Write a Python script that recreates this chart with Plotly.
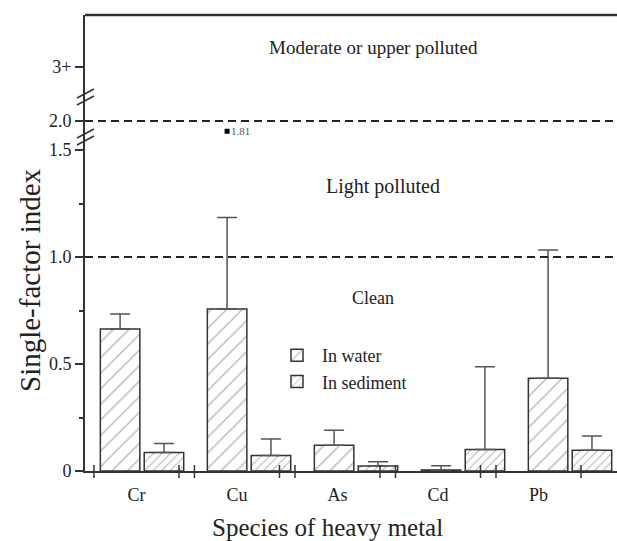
import plotly.graph_objects as go

categories = ["Cr", "Cu", "As", "Cd", "Pb"]
water = [0.664, 0.757, 0.120, 0.005, 0.433]
water_top = [0.734, 1.184, 0.190, 0.025, 1.033]
sediment = [0.086, 0.072, 0.023, 0.101, 0.097]
sediment_top = [0.129, 0.150, 0.043, 0.487, 0.164]
cu_max = 1.81
y_low_ticks = [0, 0.5, 1.0, 1.5]
y_low_labels = ["0", "0.5", "1.0", "1.5"]
y_up_ticks = [2, 3]
y_up_labels = ["2.0", "3+"]
threshold_clean = 1.0
threshold_light = 2.0

W, H = 617, 541
L, R, T, B = 85, 0, 15, 70
PW, PH = W - L - R, H - T - B
FONT = "Liberation Serif"
INK = "#222222"

def px(x):
    return (x - L) / PW

def py(y):
    return (H - B - y) / PH

bargap = 0.18
bargroupgap = 0.1
idx = list(range(len(categories)))
water_err = [t - v for t, v in zip(water_top, water)]
sed_err = [t - v for t, v in zip(sediment_top, sediment)]

fig = go.Figure()
fig.add_trace(go.Bar(
    x=idx, y=water, name="In water",
    marker=dict(color="white", line=dict(color="#333333", width=1.5),
                pattern=dict(shape="/", size=11, solidity=0.12, fgcolor="#666666", bgcolor="white")),
    error_y=dict(type="data", array=water_err, arrayminus=[0] * len(water), symmetric=False,
                 color="#555555", thickness=1.5, width=10),
    xaxis="x", yaxis="y",
))
fig.add_trace(go.Bar(
    x=idx, y=sediment, name="In sediment",
    marker=dict(color="white", line=dict(color="#333333", width=1.5),
                pattern=dict(shape="/", size=6, solidity=0.18, fgcolor="#666666", bgcolor="white")),
    error_y=dict(type="data", array=sed_err, arrayminus=[0] * len(sediment), symmetric=False,
                 color="#555555", thickness=1.5, width=10),
    xaxis="x", yaxis="y",
))

water_offset = -(1 - bargap) / 4
fig.add_trace(go.Scatter(
    x=[idx[1] + water_offset], y=[cu_max], mode="markers",
    marker=dict(symbol="square", size=5, color="black"),
    showlegend=False, xaxis="x", yaxis="y2", hoverinfo="skip",
))

split = py(140)
low_top = (471 - 140) / 214.0

axis_common = dict(showgrid=False, zeroline=False, showline=True, linewidth=2, linecolor="#333333",
                   ticks="outside", ticklen=8, tickwidth=1.5, tickcolor="#333333",
                   tickfont=dict(family=FONT, size=18, color=INK))

shapes = []
shapes.append(dict(type="line", xref="paper", yref="paper", x0=0, x1=1, y0=1, y1=1,
                   line=dict(color="#333333", width=2.5)))
shapes.append(dict(type="line", xref="paper", yref="y", x0=0, x1=1, y0=threshold_clean, y1=threshold_clean,
                   line=dict(color=INK, width=2, dash="8px,5px")))
shapes.append(dict(type="line", xref="paper", yref="y2", x0=0, x1=1, y0=threshold_light, y1=threshold_light,
                   line=dict(color=INK, width=2, dash="8px,5px")))
half = 0.423
for i in idx:
    for s in (-half, half):
        shapes.append(dict(type="line", xref="x2", yref="paper", x0=i + s, x1=i + s,
                           y0=py(478), y1=py(465), line=dict(color="#333333", width=1.5)))
for c in (93, 100, 133, 140):
    shapes.append(dict(type="line", xref="paper", yref="paper",
                       x0=px(77), x1=px(94), y0=py(c + 5), y1=py(c - 4),
                       line=dict(color="#333333", width=1.5)))

def txt(text, x, y, size, **kw):
    d = dict(text=text, x=px(x), y=py(y), xref="paper", yref="paper", xanchor="center",
             yanchor="middle", showarrow=False, font=dict(family=FONT, size=size, color=INK))
    d.update(kw)
    return d

annotations = [
    txt("Moderate or upper polluted", 373, 48, 19),
    txt("Light polluted", 383, 187, 20),
    txt("Clean", 373, 298, 18),
    dict(text=f"{cu_max:.2f}", x=idx[1] + water_offset, y=cu_max, xref="x", yref="y2",
         xanchor="left", yanchor="middle", xshift=2, showarrow=False,
         font=dict(family=FONT, size=11, color="#555555")),
    txt("Single-factor index", 30, 280, 29, textangle=-90),
    txt("Species of heavy metal", 327, 527, 25),
]

fig.update_layout(
    width=W, height=H,
    margin=dict(l=L, r=R, t=T, b=B, pad=0),
    paper_bgcolor="white", plot_bgcolor="white",
    barmode="group", bargap=bargap, bargroupgap=bargroupgap,
    xaxis=dict(range=[-0.533, 4.439], showticklabels=False, ticks="", showgrid=False, zeroline=False,
               showline=True, linewidth=2, linecolor="#333333", anchor="y"),
    xaxis2=dict(range=[-0.512, 4.781], overlaying="x", anchor="y", side="bottom",
                tickvals=idx, ticktext=categories, ticks="outside", ticklen=7,
                tickcolor="rgba(0,0,0,0)", showline=False, showgrid=False, zeroline=False,
                tickfont=dict(family=FONT, size=18, color=INK)),
    yaxis=dict(domain=[0, split], range=[0, low_top], tickvals=y_low_ticks, ticktext=y_low_labels,
               minor=dict(tickvals=[0.25, 0.75, 1.25], ticks="outside", ticklen=4, tickcolor="#333333"),
               anchor="x", **axis_common),
    yaxis2=dict(domain=[split, 1], range=[2 - 19 / 54.0, 3 + 52 / 54.0], tickvals=y_up_ticks,
                ticktext=y_up_labels, anchor="x", **axis_common),
    legend=dict(x=px(272), y=py(337), xanchor="left", yanchor="top", bgcolor="rgba(0,0,0,0)",
                font=dict(family=FONT, size=18, color=INK), tracegroupgap=0, itemwidth=40),
    shapes=shapes, annotations=annotations,
)

fig.write_html("out.html",
               config={"displayModeBar": False},
               post_script="document.body.style.margin='0';document.body.style.overflow='hidden';")
